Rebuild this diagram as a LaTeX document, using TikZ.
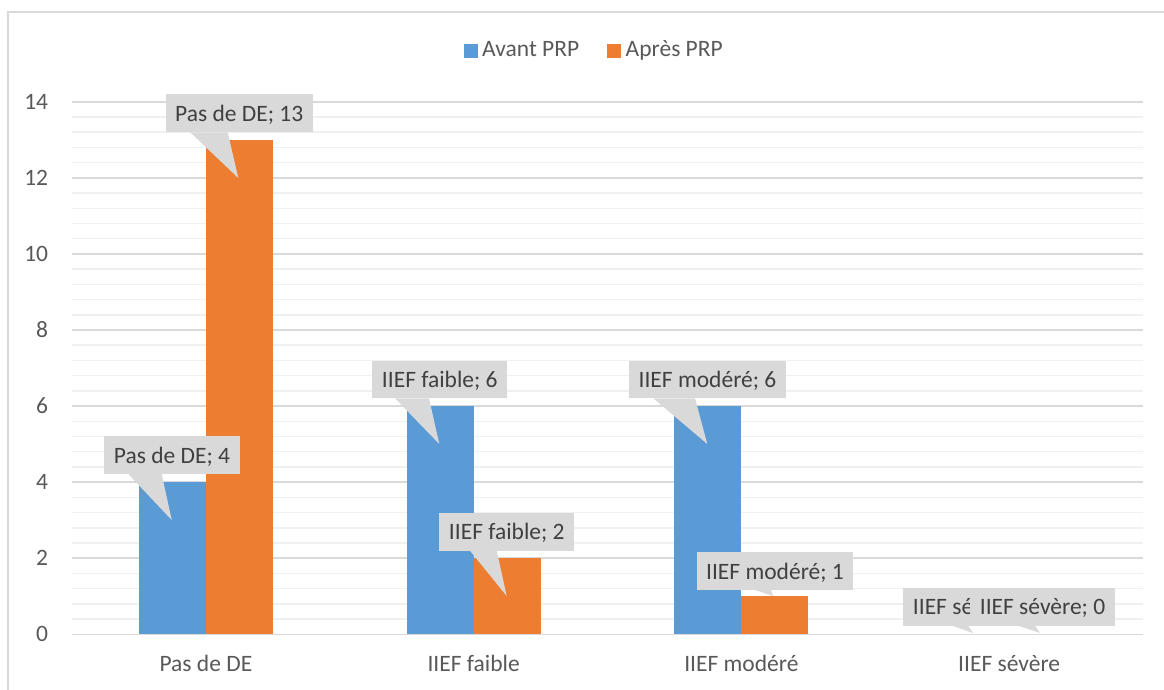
\documentclass[tikz,border=0pt]{standalone}
\usepackage{fontspec}
\setmainfont{Carlito}
\definecolor{barblue}{HTML}{5B9BD5}
\definecolor{barorange}{HTML}{ED7D31}
\definecolor{calloutgray}{HTML}{D9D9D9}
\definecolor{majorgrid}{HTML}{D9D9D9}
\definecolor{minorgrid}{HTML}{F0F0F0}
\definecolor{labeltext}{HTML}{404040}
\definecolor{axistext}{HTML}{595959}
\tikzset{
  minorline/.style={draw=minorgrid, line width=1.5pt},
  majorline/.style={draw=majorgrid, line width=1.6pt},
  axislbl/.style={text=axistext, inner sep=0pt},
  calloutbox/.style={fill=calloutgray, text=labeltext, inner xsep=9.5pt, inner ysep=0pt,
     text height=27pt, text depth=10.6pt, anchor=south},
  pointer/.style={fill=calloutgray},
  bluebar/.style={fill=barblue},
  orangebar/.style={fill=barorange},
}
\begin{document}
\begin{tikzpicture}[x=1pt,y=-1pt,font=\fontsize{23.5}{28}\selectfont]
\useasboundingbox (0,0) rectangle (1164,690);
\fill[white] (0,0) rectangle (1164,690);
\draw[draw=majorgrid, line width=1.3pt] (8,12) rectangle (1180,705);
% minor gridlines
\foreach \i in {0,...,35}{
  \pgfmathsetmacro\yy{634.3-38.04*0.4*\i}
  \draw[minorline] (72,\yy) -- (1143,\yy);
}
% major gridlines and labels
\foreach \v in {0,2,...,14}{
  \pgfmathsetmacro\yy{634.3-38.04*\v}
  \draw[majorline] (72,\yy) -- (1143,\yy);
  \node[axislbl, anchor=east] (y\v) at (48.3,\yy) {\v};
}
% bars
\fill[bluebar] (138.9,634.3) rectangle (205.9,482.1);
\fill[orangebar] (205.9,634.3) rectangle (272.9,139.8);
\fill[bluebar] (406.65,634.3) rectangle (473.65,406.1);
\fill[orangebar] (473.65,634.3) rectangle (540.65,558.2);
\fill[bluebar] (674.4,634.3) rectangle (741.4,406.1);
\fill[orangebar] (741.4,634.3) rectangle (808.4,596.3);
% category labels
\node[axislbl, anchor=base] (c1) at (205.9,671.7) {Pas de DE};
\node[axislbl, anchor=base] (c2) at (473.65,671.7) {IIEF faible};
\node[axislbl, anchor=base] (c3) at (741.4,671.7) {IIEF modéré};
\node[axislbl, anchor=base] (c4) at (1009.15,671.7) {IIEF sévère};
% legend
\fill[barblue] (464,44) rectangle (477.7,57.7);
\node[axislbl, anchor=base west] (lg1) at (482,56.7) {Avant PRP};
\fill[barorange] (607.3,44) rectangle (621,57.7);
\node[axislbl, anchor=base west] (lg2) at (625.5,56.7) {Après PRP};
% callouts: blue series
\node[calloutbox] (b1) at (172,474) {Pas de DE; 4};
\coordinate (tb1) at (171.7,520);
\fill[pointer] ([xshift=-43.7pt]b1.south) -- ([xshift=-10.3pt]b1.south) -- (tb1) -- cycle;
\node[calloutbox] (b2) at (439.8,398.3) {IIEF faible; 6};
\coordinate (tb2) at (439.3,444);
\fill[pointer] ([xshift=-44.8pt]b2.south) -- ([xshift=-10.8pt]b2.south) -- (tb2) -- cycle;
\node[calloutbox] (b3) at (707.5,398.3) {IIEF modéré; 6};
\coordinate (tb3) at (707.3,444);
\fill[pointer] ([xshift=-54.2pt]b3.south) -- ([xshift=-12.5pt]b3.south) -- (tb3) -- cycle;
\node[calloutbox] (b4) at (975.6,625.7) {IIEF sévère; 0};
\coordinate (tb4) at (973.3,633);
\fill[pointer] ([xshift=-23.6pt]b4.south) -- ([xshift=-7.6pt]b4.south) -- (tb4) -- cycle;
% callouts: orange series
\node[calloutbox] (o1) at (239.2,132.3) {Pas de DE; 13};
\coordinate (to1) at (238.3,178);
\fill[pointer] ([xshift=-49pt]o1.south) -- ([xshift=-11.5pt]o1.south) -- (to1) -- cycle;
\node[calloutbox] (o2) at (506.8,550.7) {IIEF faible; 2};
\coordinate (to2) at (506.7,596);
\fill[pointer] ([xshift=-36.8pt]o2.south) -- ([xshift=-10.1pt]o2.south) -- (to2) -- cycle;
\node[calloutbox] (o3) at (775,590) {IIEF modéré; 1};
\coordinate (to3) at (773,596);
\fill[pointer] ([xshift=-20pt]o3.south) -- ([xshift=-4pt]o3.south) -- (to3) -- cycle;
\node[calloutbox] (o4) at (1042.5,625.7) {IIEF sévère; 0};
\coordinate (to4) at (1040,633);
\fill[pointer] ([xshift=-24.2pt]o4.south) -- ([xshift=-7.5pt]o4.south) -- (to4) -- cycle;
\end{tikzpicture}
\end{document}
